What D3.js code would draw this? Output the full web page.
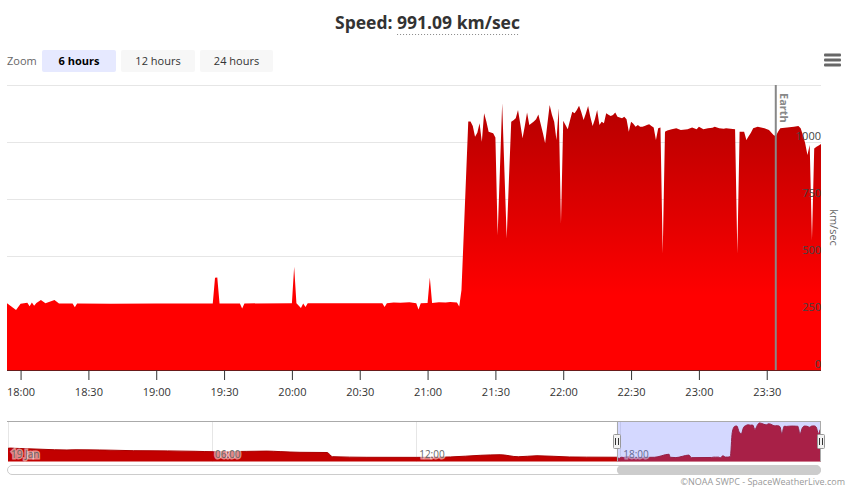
<!DOCTYPE html>
<html><head><meta charset="utf-8">
<script src="https://cdn.jsdelivr.net/npm/d3@7"></script>
<style>
html,body{margin:0;padding:0;background:#fff;}
svg{display:block;font-family:"Open Sans",sans-serif;}
</style></head><body>
<svg id="chart" width="853" height="494"></svg>
<script>
// ---- data (solar wind speed, km/sec) ----
const speedTimes = ["17:54","17:58","18:00","18:03","18:04","18:05","18:06","18:07","18:09","18:11","18:15","18:17","18:23","18:24","18:25","18:40","19:00","19:25","19:26","19:27","19:28","19:37","19:38","19:39","20:00","20:01","20:02","20:04","20:05","20:06","20:07","20:40","20:41","20:42","20:45","20:48","20:52","20:55","20:56","20:57","21:00","21:01","21:02","21:05","21:08","21:10","21:13","21:14","21:15","21:16","21:17","21:18","21:19","21:20","21:21","21:22","21:23","21:24","21:25","21:26","21:27","21:28","21:29","21:30","21:31","21:32","21:33","21:34","21:35","21:36","21:37","21:38","21:39","21:40","21:41","21:42","21:43","21:44","21:45","21:46","21:47","21:48","21:49","21:50","21:51","21:52","21:53","21:54","21:55","21:56","21:57","21:58","21:59","22:00","22:01","22:02","22:03","22:04","22:05","22:06","22:07","22:08","22:09","22:10","22:11","22:12","22:13","22:14","22:15","22:16","22:17","22:18","22:19","22:20","22:21","22:22","22:23","22:24","22:25","22:26","22:27","22:28","22:29","22:30","22:31","22:32","22:33","22:34","22:35","22:36","22:37","22:38","22:39","22:40","22:41","22:42","22:43","22:44","22:45","22:46","22:48","22:50","22:52","22:55","22:57","22:59","23:00","23:02","23:04","23:06","23:07","23:09","23:11","23:12","23:14","23:16","23:17","23:18","23:20","23:21","23:22","23:23","23:24","23:26","23:28","23:29","23:31","23:33","23:34","23:35","23:36","23:39","23:42","23:44","23:45","23:46","23:47","23:48","23:49","23:50","23:51","23:52","23:53","23:54"];
const speedValues = [293,263,291,295,280,296,282,294,307,293,307,292,292,275,292,291,292,292,405,406,292,292,270,292,293,453,293,272,292,276,293,293,276,293,296,295,297,293,265,293,294,406,294,297,296,298,296,278,351,596,842,1090,1090,1070,1023,1041,1082,1001,1126,1090,1045,1042,1038,1020,592,880,1170,870,578,840,1089,1095,1104,1140,1080,1016,1070,1129,1075,1082,1090,1100,1121,1080,1040,994,1080,1162,1120,1089,1009,1148,643,1093,1075,1056,1095,1133,1126,1140,1159,1130,1096,1125,1158,1110,1070,1100,1140,1075,1089,1082,1126,1120,1114,1118,1129,1111,1108,1104,1111,1100,1045,1089,1080,1067,1075,1067,1067,1070,1075,1078,1070,1064,1009,1060,1064,512,1045,1050,1056,1060,1053,1056,1064,1056,1067,1056,1060,1062,1067,1060,1058,1060,1058,1056,512,1045,1045,1009,1025,1041,1060,1067,1063,1060,1053,1031,1025,1045,1060,1064,1067,1070,1060,1031,994,943,987,570,972,979,985,991.09];
// earlier part of the day, shown only in the navigator
const navEarlyTimes = ["00:00","00:04","00:15","00:30","01:00","01:44","02:00","02:42","03:00","03:41","04:41","05:30","06:02","07:00","07:37","08:00","08:35","09:23","09:32","10:33","12:00","13:00","13:53","14:28","15:00","15:33","16:30","17:00","17:53"];
const navEarlyValues = [514,520,512,505,490,472,478,472,468,455,450,440,430,438,445,432,415,410,307,292,290,300,341,355,305,330,300,296,293];
const yTicks = [0,250,500,750,1000,1250];
const yTickLabels = ["0","250","500","750","1000",""];
const xTickTimes = ["18:00","18:30","19:00","19:30","20:00","20:30","21:00","21:30","22:00","22:30","23:00","23:30"];
const navTickTimes = ["00:00","06:00","12:00","18:00"];
const navTickLabels = ["19 Jan","06:00","12:00","18:00"];
const zoomButtons = ["6 hours","12 hours","24 hours"];
const selectedButton = 0;
const earthTime = "23:34";
const earthLabel = "Earth";
const titlePrefix = "Speed: ";
const titleValue = "991.09 km/sec";
const yAxisTitle = "km/sec";
const windowStart = "17:54", windowEnd = "23:54", dayStart = "00:00";
const navGroupMinutes = 4;
const creditsText = "\u00A9NOAA SWPC - SpaceWeatherLive.com";

// ---- drawing ----
const parse = d3.timeParse("%H:%M");
const fmt = d3.timeFormat("%H:%M");
const svg = d3.select("#chart");
const W = 853;
const plotL = 7, plotR = 821, plotT = 85, plotB = 370;
const navT = 421, navB = 461.5;

const mainData = speedTimes.map((t,i)=>({t:parse(t), v:speedValues[i]}));
const navRaw = navEarlyTimes.map((t,i)=>({t:parse(t), v:navEarlyValues[i]})).concat(mainData);
// data grouping for the navigator (mean per bucket, like the library's navigator)
const bucket = d3.timeMinute.every(navGroupMinutes);
const grouped = d3.rollups(navRaw, g=>({t:d3.mean(g,d=>+d.t), v:d3.mean(g,d=>d.v)}), d=>+bucket.floor(d.t));
const navData = grouped.map(g=>({t:new Date(g[1].t), v:g[1].v})).sort((a,b)=>a.t-b.t);
navData.push(mainData[mainData.length-1]);

const x = d3.scaleTime().domain([parse(windowStart), parse(windowEnd)]).range([plotL, plotR]);
const y = d3.scaleLinear().domain([0,1250]).range([plotB, plotT]);

const defs = svg.append("defs");
const grad = defs.append("linearGradient").attr("id","areaGrad").attr("x1",0).attr("y1",0).attr("x2",0).attr("y2",1);
grad.append("stop").attr("offset",0).attr("stop-color","#b50000");
grad.append("stop").attr("offset",0.72).attr("stop-color","#ff0000");
grad.append("stop").attr("offset",1).attr("stop-color","#ff0000");

// title
const titleG = svg.append("g");
const title = titleG.append("text").attr("x", W/2 + 1).attr("y", 29).attr("text-anchor","middle")
  .style("font-size","17.5px").style("font-weight","bold").attr("fill","#333");
title.append("tspan").text(titlePrefix);
title.append("tspan").text(titleValue);
{
  const bb = title.node().getBBox();
  const tmp = svg.append("text").style("font-size","17.5px").style("font-weight","bold").text(titleValue);
  const vw = tmp.node().getComputedTextLength(); tmp.remove();
  const x1 = bb.x + bb.width - vw;
  titleG.append("line").attr("x1",x1).attr("x2",bb.x+bb.width).attr("y1",34.5).attr("y2",34.5)
    .attr("stroke","#888").attr("stroke-width",1).attr("stroke-dasharray","1,2");
}

// zoom buttons
svg.append("text").attr("x",7).attr("y",65).text("Zoom").style("font-size","11px").attr("fill","#666");
const btnX = [42,121,200], btnW = [74,74,73];
zoomButtons.forEach((b,i)=>{
  svg.append("rect").attr("x",btnX[i]).attr("y",50).attr("width",btnW[i]).attr("height",22).attr("rx",2)
    .attr("fill", i===selectedButton ? "#e6e9ff" : "#f7f7f7");
  svg.append("text").attr("x",btnX[i]+btnW[i]/2).attr("y",65).attr("text-anchor","middle")
    .style("font-size","11px").style("font-weight", i===selectedButton?"bold":"normal")
    .attr("fill", i===selectedButton?"#000":"#333").text(b);
});

// hamburger
[0,5,10].forEach(d=>svg.append("rect").attr("x",824).attr("y",53.5+d).attr("width",17).attr("height",3).attr("rx",1).attr("fill","#666"));

// gridlines
svg.append("g").selectAll("line").data(yTicks).join("line")
  .attr("x1",plotL).attr("x2",plotR).attr("y1",d=>Math.round(y(d))+0.5).attr("y2",d=>Math.round(y(d))+0.5)
  .attr("stroke","#e6e6e6");

// main area
const area = d3.area().x(d=>x(d.t)).y0(y(0)).y1(d=>y(d.v));
svg.append("path").datum(mainData).attr("d",area).attr("fill","url(#areaGrad)");

// y labels (inside, right aligned)
svg.append("g").selectAll("text").data(yTicks).join("text")
  .attr("x",plotR).attr("y",(d)=>y(d)-2).attr("text-anchor","end")
  .style("font-size","11px").attr("fill","#444").text((d,i)=>yTickLabels[i]);

// y axis title
svg.append("text").attr("transform",`translate(830,${(plotT+plotB)/2}) rotate(90)`)
  .attr("text-anchor","middle").style("font-size","11px").attr("fill","#666").text(yAxisTitle);

// earth line
const ex = x(parse(earthTime));
svg.append("line").attr("x1",ex).attr("x2",ex).attr("y1",plotT).attr("y2",plotB).attr("stroke","#888").attr("stroke-width",2);
svg.append("text").attr("transform",`translate(${ex+4},93) rotate(90)`)
  .style("font-size","11px").style("font-weight","bold").attr("fill","#888").text(earthLabel);

// x axis
const xAxis = d3.axisBottom(x).tickValues(xTickTimes.map(parse)).tickFormat(fmt).tickSize(10).tickSizeOuter(0);
const gx = svg.append("g").attr("transform",`translate(0,${plotB})`).call(xAxis);
gx.select(".domain").attr("stroke","#6a1a1a").attr("d",`M${plotL},0.5H${plotR}`);
gx.selectAll(".tick line").attr("stroke","#333");
gx.selectAll(".tick text").attr("y",18).style("font-size","11px").style("font-family","'Open Sans',sans-serif").attr("fill","#333");

// ---- navigator ----
const nx = d3.scaleTime().domain([parse(dayStart), parse(windowEnd)]).range([8, plotR]);
const ny = d3.scaleLinear().domain([188,1188]).range([navB, navT]);
svg.append("g").selectAll("line").data(navTickTimes).join("line")
  .attr("x1",d=>Math.round(nx(parse(d)))+0.5).attr("x2",d=>Math.round(nx(parse(d)))+0.5)
  .attr("y1",navT).attr("y2",navB).attr("stroke","#e6e6e6");
const narea = d3.area().x(d=>nx(d.t)).y0(navB).y1(d=>ny(d.v)).curve(d3.curveMonotoneX);
svg.append("path").datum(navData).attr("d",narea).attr("fill","#c20000");
svg.append("path").datum(navData).attr("d",d3.line().x(d=>nx(d.t)).y(d=>ny(d.v)).curve(d3.curveMonotoneX)).attr("fill","none").attr("stroke","#a80000").attr("stroke-width",1);
svg.append("g").selectAll("text").data(navTickTimes).join("text")
  .attr("x",d=>nx(parse(d))+3).attr("y",458).style("font-size","10px").attr("fill","#666")
  .attr("stroke","rgba(255,255,255,0.55)").attr("stroke-width",3).attr("paint-order","stroke")
  .text((d,i)=>navTickLabels[i]);
const sx0 = nx(parse(windowStart)), sx1 = nx(parse(windowEnd));
svg.append("rect").attr("x",sx0).attr("y",navT).attr("width",sx1-sx0).attr("height",navB-navT)
  .attr("fill","rgba(102,115,255,0.28)");
svg.append("path").attr("d",`M${plotL},${navT+0.5}H${plotR}M${Math.round(sx0)+0.5},${navT}V${navB}M${Math.round(sx1)-0.5},${navT}V${navB}`)
  .attr("stroke","#aaa").attr("fill","none");
[sx0, sx1].forEach(hx=>{
  const hxr = Math.round(hx);
  svg.append("rect").attr("x",hxr-3.5).attr("y",434.5).attr("width",7).attr("height",14).attr("rx",1)
    .attr("fill","#f2f2f2").attr("stroke","#999");
  svg.append("path").attr("d",`M${hxr-1.5},438V445M${hxr+1.5},438V445`).attr("stroke","#333").attr("stroke-width",1);
});
// scrollbar
svg.append("rect").attr("x",plotL+0.5).attr("y",465.5).attr("width",plotR-plotL-1).attr("height",9).attr("rx",4.5)
  .attr("fill","#fff").attr("stroke","#ccc");
svg.append("rect").attr("x",sx0).attr("y",465).attr("width",sx1-sx0).attr("height",10).attr("rx",5).attr("fill","#cccccc");

// credits
svg.append("text").attr("x",845).attr("y",485).attr("text-anchor","end").style("font-size","9px").attr("fill","#999").text(creditsText);
</script>
</body></html>
